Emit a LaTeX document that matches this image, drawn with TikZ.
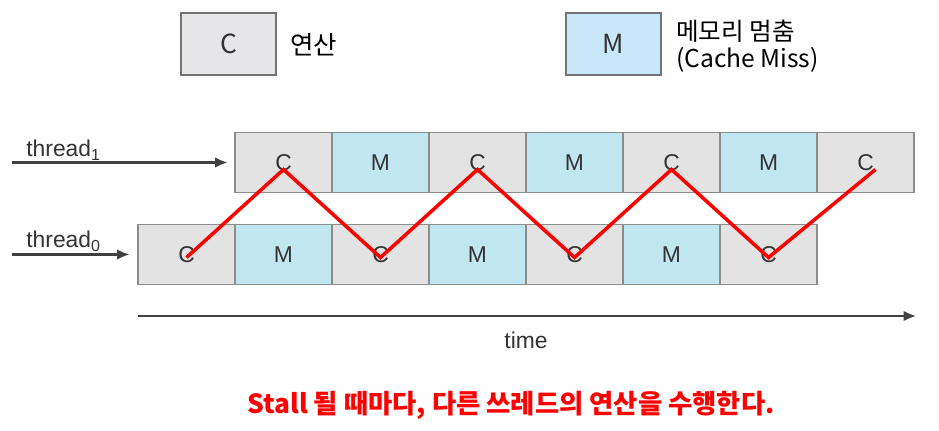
\documentclass[tikz,border=0pt]{standalone}
\usepackage{fontspec}
\setmainfont{Liberation Sans}
\newfontfamily\kr{Noto Sans CJK KR}
\usetikzlibrary{arrows.meta,calc}
\definecolor{cellgray}{HTML}{E3E3E3}
\definecolor{cellblue}{HTML}{C0E6F0}
\definecolor{cellline}{HTML}{8C8C8C}
\definecolor{keygray}{HTML}{E6E6E8}
\definecolor{keyblue}{HTML}{C8E8F8}
\definecolor{arrowgray}{HTML}{404040}
\tikzset{
	cell/.style={draw=cellline,line width=0.6pt,minimum width=1.94cm,minimum height=1.2cm,inner sep=0pt,font=\fontsize{13}{15}\selectfont,text=black!80},
	cc/.style={cell,fill=cellgray},
	mm/.style={cell,fill=cellblue},
	key/.style={draw=black!55,line width=0.6pt,minimum width=1.9cm,minimum height=1.24cm,inner sep=0pt,font=\kr\fontsize{15}{17}\selectfont,text=black!80},
	flow/.style={-{Latex[length=7pt,width=6pt]},draw=arrowgray,line width=1.2pt},
	zig/.style={draw=red,line width=2pt},
	lbl/.style={font=\fontsize{13}{15}\selectfont,text=black!80,inner sep=0pt},
}
\begin{document}
\begin{tikzpicture}[x=0.02cm,y=-0.02cm]
	\useasboundingbox (0,0) rectangle (939,431);
	% legend
	\node[key,fill=keygray] (keyC) at (228.5,44) {C};
	\node[anchor=west,font=\kr\fontsize{14.5}{16}\selectfont] (keyCtxt) at (284,45) {연산};
	\node[key,fill=keyblue] (keyM) at (613.5,44) {M};
	\node[anchor=west,align=left,font=\kr\fontsize{14}{15.5}\selectfont] (keyMtxt) at (670,46) {메모리 멈춤\\(Cache Miss)};
	% thread rows
	\foreach \i/\k/\t in {1/cc/C,2/mm/M,3/cc/C,4/mm/M,5/cc/C,6/mm/M,7/cc/C}{
		\node[\k] (t1c\i) at ({283.5+97*(\i-1)},162.5) {\t};
		\node[\k] (t0c\i) at ({186.5+97*(\i-1)},254.5) {\t};
	}
	% inputs
	\coordinate (t1in) at (12,162.5);
	\coordinate (t0in) at (12,254.5);
	\draw[flow,shorten >=0.14cm] (t1in) -- (t1c1.west);
	\draw[flow,shorten >=0.16cm] (t0in) -- (t0c1.west);
	\node[lbl,anchor=base west] (t1lbl) at (26,157) {thread\textsubscript{1}};
	\node[lbl,anchor=base west] (t0lbl) at (26,248) {thread\textsubscript{0}};
	% time axis
	\coordinate (tstart) at (138,316);
	\coordinate (tend) at (916,316);
	\draw[flow] (tstart) -- (tend);
	\node[lbl] (tlbl) at (526,340) {time};
	% switching
	\draw[zig] ($(t0c1.center)+(0,3)$) -- ($(t1c1.center)+(0,7)$) -- ($(t0c3.center)+(0,3)$) -- ($(t1c3.center)+(0,7)$)
		-- ($(t0c5.center)+(0,3)$) -- ($(t1c5.center)+(0,7)$) -- ($(t0c7.center)+(0,3)$) -- ($(t1c7.center)+(10,7)$);
	\node[text=red,font=\kr\bfseries\fontsize{15}{17}\selectfont] (note) at (511,405) {Stall 될 때마다, 다른 쓰레드의 연산을 수행한다.};
\end{tikzpicture}
\end{document}
